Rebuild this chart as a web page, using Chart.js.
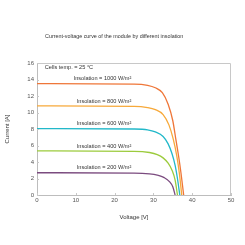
<!DOCTYPE html>
<html>
<head>
<meta charset="utf-8">
<script src="https://cdn.jsdelivr.net/npm/chart.js@4/dist/chart.umd.min.js"></script>
<style>
  html, body { margin: 0; padding: 0; background: #fff; }
  #wrap { width: 245px; height: 245px; }
</style>
</head>
<body>
<div id="wrap"><canvas id="ivChart" width="245" height="245"></canvas></div>
<script>
// values: voltage [V] / current [A]
var v1000 = [0, 25, 28.5, 30.5, 32.3, 33.8, 35, 35.8, 36.5, 37.1, 37.8]
var i1000 = [13.5, 13.45, 13.3, 13.0, 12.4, 11.0, 9.0, 6.7, 4.7, 2.7, 0]
var v800 = [0, 25, 28.5, 30.5, 32.5, 34.0, 35.1, 36, 36.7, 37.3]
var i800 = [10.8, 10.75, 10.6, 10.35, 9.75, 8.5, 6.8, 4.8, 2.6, 0]
var v600 = [0, 25, 28.5, 30.5, 32.5, 33.8, 34.8, 35.6, 36.2, 36.8]
var i600 = [8.05, 8.0, 7.9, 7.65, 7.1, 6.2, 5.0, 3.6, 2.0, 0]
var v400 = [0, 25, 29, 31, 32.5, 33.8, 34.8, 35.6, 36.2]
var i400 = [5.35, 5.3, 5.15, 4.9, 4.5, 3.85, 3.0, 1.8, 0]
var v200 = [0, 25, 29, 31, 32.8, 34.2, 35, 35.6]
var i200 = [2.7, 2.65, 2.55, 2.4, 2.1, 1.6, 1.0, 0]

var seriesNames = ['Insolation = 1000 W/m²', 'Insolation = 800 W/m²', 'Insolation = 600 W/m²',
                   'Insolation = 400 W/m²', 'Insolation = 200 W/m²']
var seriesColors = ['#ef7638', '#f7a93a', '#22b8c9', '#9ccb3d', '#7b4b7f']
var xTicks = [0, 10, 20, 30, 40, 50]
var yTicks = [0, 2, 4, 6, 8, 10, 12, 14, 16]

function toPoints(xs, ys) {
    return xs.map(function (x, k) { return { x: x, y: ys[k] } })
}

var allV = [v1000, v800, v600, v400, v200]
var allI = [i1000, i800, i600, i400, i200]

var datasets = allV.map(function (vs, k) {
    return {
        label: seriesNames[k],
        data: toPoints(vs, allI[k]),
        borderColor: seriesColors[k],
        borderWidth: 1.3,
        pointRadius: 0,
        fill: false,
        cubicInterpolationMode: 'monotone'
    }
})

var font = 'Liberation Sans, Arial, sans-serif'

// labels above the curves, title, box lines and the small inner tick marks
var annotate = {
    id: 'annotate',
    afterDatasetsDraw: function (chart) {
        var ctx = chart.ctx
        var xs = chart.scales.x, ys = chart.scales.y
        var area = chart.chartArea
        ctx.save()
        ctx.fillStyle = '#333'
        ctx.font = '5.6px ' + font
        ctx.textBaseline = 'bottom'
        ctx.textAlign = 'right'
        allI.forEach(function (is, k) {
            ctx.fillText(seriesNames[k], xs.getPixelForValue(24.3), ys.getPixelForValue(is[0]) - 2)
        })
        ctx.textAlign = 'left'
        ctx.fillText('Cells temp. = 25 °C', xs.getPixelForValue(2), ys.getPixelForValue(15.1))
        ctx.font = '5.4px ' + font
        ctx.textBaseline = 'middle'
        ctx.fillText('Current-voltage curve of the module by different insolation', area.left + 8, 37)
        ctx.strokeStyle = '#c8c8c8'
        ctx.lineWidth = 1
        ctx.beginPath()
        ctx.moveTo(area.left, area.top + 0.5)
        ctx.lineTo(area.right - 0.5, area.top + 0.5)
        ctx.lineTo(area.right - 0.5, area.bottom)
        xTicks.forEach(function (v) {
            var px = Math.round(xs.getPixelForValue(v)) + 0.5
            ctx.moveTo(px, area.bottom)
            ctx.lineTo(px, area.bottom - 2)
        })
        yTicks.forEach(function (v) {
            var py = Math.round(ys.getPixelForValue(v)) + 0.5
            ctx.moveTo(area.left, py)
            ctx.lineTo(area.left + 2, py)
        })
        ctx.stroke()
        ctx.restore()
    }
}

function tickLabel(v) { return String(v) }

new Chart(document.getElementById('ivChart'), {
    type: 'line',
    data: { datasets: datasets },
    options: {
        responsive: false,
        animation: false,
        layout: { padding: { top: 63, right: 14, bottom: 20, left: 0 } },
        plugins: { legend: { display: false }, tooltip: { enabled: false } },
        scales: {
            x: {
                type: 'linear', min: 0, max: 50,
                afterFit: function (s) { s.height = 30 },
                afterBuildTicks: function (s) { s.ticks = xTicks.map(function (v) { return { value: v } }) },
                grid: { drawOnChartArea: false, drawTicks: false },
                border: { color: '#bdbdbd' },
                ticks: { color: '#555', font: { size: 6, family: font }, padding: 2, callback: tickLabel },
                title: { display: true, text: 'Voltage [V]', color: '#333', font: { size: 6, family: font }, padding: { top: 9 } }
            },
            y: {
                min: 0, max: 16,
                afterFit: function (s) { s.width = 37 },
                afterBuildTicks: function (s) { s.ticks = yTicks.map(function (v) { return { value: v } }) },
                grid: { drawOnChartArea: false, drawTicks: false },
                border: { color: '#bdbdbd' },
                ticks: { color: '#555', font: { size: 6, family: font }, padding: 3, callback: tickLabel },
                title: { display: true, text: 'Current [A]', color: '#333', font: { size: 6, family: font }, padding: 4 }
            }
        }
    },
    plugins: [annotate]
})
</script>
</body>
</html>
